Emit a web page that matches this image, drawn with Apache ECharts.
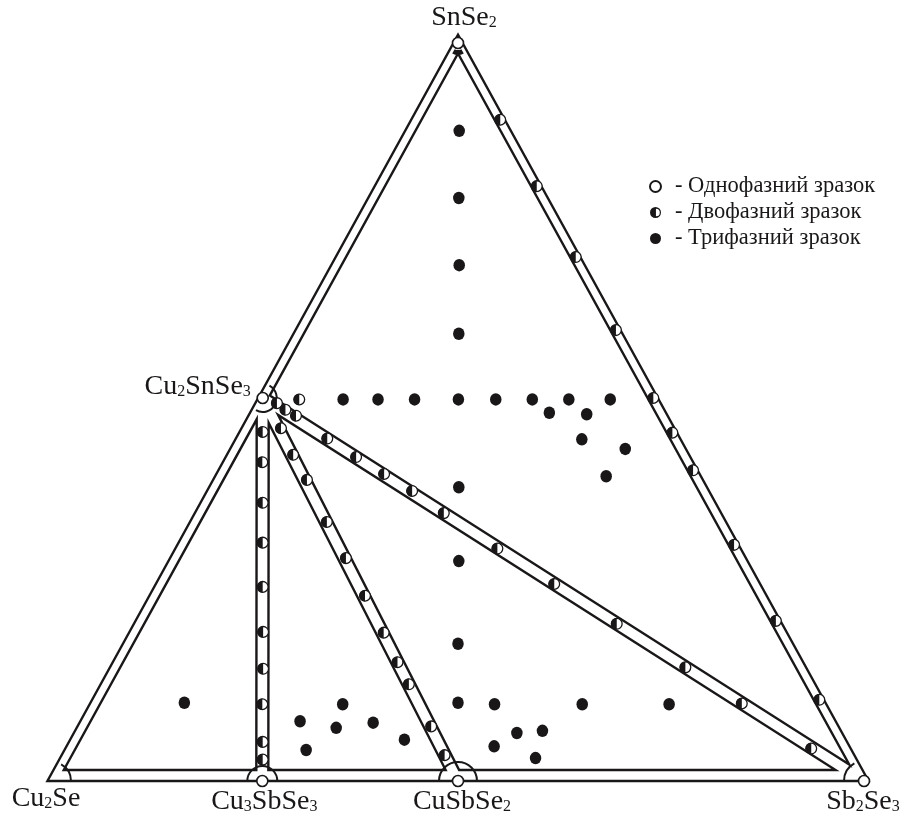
<!DOCTYPE html>
<html>
<head>
<meta charset="utf-8">
<script src="https://cdn.jsdelivr.net/npm/echarts@6/dist/echarts.min.js"></script>
<style>
  html, body { margin: 0; padding: 0; background: #ffffff; }
  #chart { width: 920px; height: 821px; }
</style>
</head>
<body>
<div id="chart"></div>
<script>
// Isothermal section of the Cu2Se – Sb2Se3 – SnSe2 system.
// Every composition is given as mole fractions of Sb2Se3 and SnSe2 (Cu2Se is the remainder).

// ---- phases ----
const phaseNames  = ['Cu2Se', 'Cu3SbSe3', 'CuSbSe2', 'Sb2Se3', 'Cu2SnSe3', 'SnSe2'];
const phaseSb2Se3 = [0, 0.259, 0.5, 1, 0, 0];
const phaseSnSe2  = [0, 0, 0, 0, 0.519, 1];
const singlePhaseSamples = ['Cu3SbSe3', 'CuSbSe2', 'Sb2Se3', 'Cu2SnSe3', 'SnSe2'];

// three-phase fields
const triangles = [
  ['Cu2Se', 'Cu3SbSe3', 'Cu2SnSe3'],
  ['Cu3SbSe3', 'CuSbSe2', 'Cu2SnSe3'],
  ['CuSbSe2', 'Sb2Se3', 'Cu2SnSe3'],
  ['Cu2SnSe3', 'Sb2Se3', 'SnSe2']
];

// ---- two-phase samples ----
// SnSe2 – Sb2Se3
const edgeSb2Se3 = [0.104, 0.194, 0.290, 0.389, 0.481, 0.528, 0.579, 0.680, 0.783, 0.890];
const edgeSnSe2  = [0.896, 0.806, 0.710, 0.611, 0.519, 0.472, 0.421, 0.320, 0.217, 0.110];
// Cu2SnSe3 – Cu3SbSe3
const cu3Sb2Se3 = [0.023, 0.043, 0.071, 0.098, 0.128, 0.159, 0.184, 0.207, 0.233, 0.245];
const cu3SnSe2  = [0.473, 0.432, 0.377, 0.323, 0.263, 0.202, 0.152, 0.104, 0.053, 0.029];
// Cu2SnSe3 – CuSbSe2
const cu1Sb2Se3 = [0.043, 0.076, 0.110, 0.163, 0.211, 0.260, 0.308, 0.345, 0.374, 0.430, 0.466];
const cu1SnSe2  = [0.478, 0.442, 0.408, 0.351, 0.302, 0.251, 0.201, 0.161, 0.131, 0.074, 0.035];
// Cu2SnSe3 – Sb2Se3 (and one sample beside Cu2SnSe3)
const sbSb2Se3 = [0.021, 0.036, 0.053, 0.107, 0.155, 0.201, 0.247, 0.301, 0.391, 0.485, 0.589, 0.703, 0.797, 0.913, 0.046];
const sbSnSe2  = [0.512, 0.503, 0.495, 0.464, 0.439, 0.416, 0.393, 0.363, 0.315, 0.267, 0.213, 0.154, 0.105, 0.044, 0.517];

// ---- three-phase samples ----
const threeSb2Se3 = [
  0.061, 0.106, 0.152, 0.198, 0.100, 0.143, 0.188, 0.242, 0.288, 0.333, 0.378, 0.429,
  0.363, 0.410, 0.421, 0.481, 0.476, 0.302,
  0.352, 0.407, 0.447, 0.493, 0.601, 0.708, 0.540, 0.570, 0.521, 0.580,
  0.306, 0.265, 0.314, 0.356, 0.406, 0.292,
  0.110
];
const threeSnSe2 = [
  0.881, 0.790, 0.699, 0.606, 0.517, 0.517, 0.517, 0.517, 0.517, 0.517, 0.517, 0.517,
  0.499, 0.497, 0.463, 0.450, 0.413, 0.398,
  0.298, 0.186, 0.106, 0.104, 0.104, 0.104, 0.065, 0.068, 0.047, 0.031,
  0.104, 0.081, 0.072, 0.079, 0.056, 0.042,
  0.106
];

const legendNames = ['Однофазний зразок', 'Двофазний зразок', 'Трифазний зразок'];

// ---- drawing style ----
const INK = '#1a1718';
const SERIF = "'Liberation Serif', 'Times New Roman', serif";
const FRAME_W = 2.4;
const INSET = { base: 11, side: 5, tie: 6 };
const OUTSET_SIDE = 4;
const labelOffset = {
  SnSe2: [6, -25], Cu2SnSe3: [-65, -11], Cu2Se: [-6, 18],
  Cu3SbSe3: [2, 21], CuSbSe2: [4, 21], Sb2Se3: [-1, 21]
};
const angleMarks = [
  { at: 'Cu2Se', from: 'SnSe2', to: 'Sb2Se3', r: 19 },
  { at: 'Sb2Se3', from: 'Cu2Se', to: 'SnSe2', r: 20 },
  { at: 'Cu3SbSe3', from: 'Cu2Se', to: 'Sb2Se3', r: 15 },
  { at: 'CuSbSe2', from: 'Cu2Se', to: 'Sb2Se3', r: 19 },
  { at: 'Cu2SnSe3', from: 'SnSe2', to: 'Cu2Se', r: 14 }
];

// ---- helpers ----
function toXY(sb, sn) { return [sb + sn / 2, sn]; }
function phaseIdx(n) { return phaseNames.indexOf(n); }
function phaseXY(n) { const i = phaseIdx(n); return toXY(phaseSb2Se3[i], phaseSnSe2[i]); }
function zipXY(sbArr, snArr) { return sbArr.map((sb, i) => toXY(sb, snArr[i])); }

function edgeKind(n1, n2) {
  const i = phaseIdx(n1), j = phaseIdx(n2);
  const b1 = phaseSb2Se3[i], c1 = phaseSnSe2[i], b2 = phaseSb2Se3[j], c2 = phaseSnSe2[j];
  if (c1 === 0 && c2 === 0) return 'base';
  if (b1 === 0 && b2 === 0) return 'side';
  if (Math.abs(b1 + c1 - 1) < 1e-9 && Math.abs(b2 + c2 - 1) < 1e-9) return 'side';
  return 'tie';
}

// shift every edge of a pixel polygon inwards by its own distance (negative = outwards)
function offsetPolygon(pts, dists) {
  const n = pts.length;
  const gx = pts.reduce((s, p) => s + p[0], 0) / n;
  const gy = pts.reduce((s, p) => s + p[1], 0) / n;
  const lines = pts.map((a, i) => {
    const b = pts[(i + 1) % n];
    const len = Math.hypot(b[0] - a[0], b[1] - a[1]);
    const ux = (b[0] - a[0]) / len, uy = (b[1] - a[1]) / len;
    let nx = -uy, ny = ux;
    if ((gx - a[0]) * nx + (gy - a[1]) * ny < 0) { nx = -nx; ny = -ny; }
    return { x: a[0] + nx * dists[i], y: a[1] + ny * dists[i], ux, uy };
  });
  return lines.map((l2, i) => {
    const l1 = lines[(i - 1 + n) % n];
    const den = l1.ux * l2.uy - l1.uy * l2.ux;
    const t = ((l2.x - l1.x) * l2.uy - (l2.y - l1.y) * l2.ux) / den;
    return [l1.x + t * l1.ux, l1.y + t * l1.uy];
  });
}

function richName(name) {
  return name.replace(/(\D+)/g, '{n|$1}').replace(/(\d+)/g, '{s|$1}');
}

function renderFrame(params, api) {
  const P = {};
  phaseNames.forEach(n => { P[n] = api.coord(phaseXY(n)); });
  const children = [];
  const lineStyle = { fill: 'none', stroke: INK, lineWidth: FRAME_W, lineJoin: 'miter' };

  const outer = ['Cu2Se', 'Sb2Se3', 'SnSe2'];
  const outerD = outer.map((n, k) => edgeKind(n, outer[(k + 1) % 3]) === 'base' ? 0 : -OUTSET_SIDE);
  children.push({ type: 'polygon', shape: { points: offsetPolygon(outer.map(n => P[n]), outerD) }, style: lineStyle });

  triangles.forEach(tri => {
    const d = tri.map((n, k) => INSET[edgeKind(n, tri[(k + 1) % 3])]);
    children.push({ type: 'polygon', shape: { points: offsetPolygon(tri.map(n => P[n]), d) }, style: lineStyle });
  });

  const ang = (a, b) => Math.atan2(P[b][1] - P[a][1], P[b][0] - P[a][0]);
  angleMarks.forEach(m => {
    const a0 = ang(m.at, m.from);
    let a1 = ang(m.at, m.to);
    while (a1 <= a0) a1 += Math.PI * 2;
    children.push({
      type: 'arc',
      shape: { cx: P[m.at][0], cy: P[m.at][1], r: m.r, startAngle: a0, endAngle: a1, clockwise: true },
      style: { fill: 'none', stroke: INK, lineWidth: 2 }
    });
  });

  // small solid wedge at the SnSe2 corner
  const s0 = ang('SnSe2', 'Sb2Se3');
  let s1 = ang('SnSe2', 'Cu2Se');
  while (s1 <= s0) s1 += Math.PI * 2;
  children.push({
    type: 'sector',
    shape: { cx: P.SnSe2[0], cy: P.SnSe2[1], r0: 7, r: 12, startAngle: s0, endAngle: s1, clockwise: true },
    style: { fill: INK }
  });

  return { type: 'group', children };
}

function renderHalf(params, api) {
  const p = api.coord([api.value(0), api.value(1)]);
  const r = 5.4;
  return {
    type: 'group',
    children: [
      { type: 'circle', shape: { cx: p[0], cy: p[1], r }, style: { fill: '#ffffff', stroke: INK, lineWidth: 1.3 } },
      { type: 'sector', shape: { cx: p[0], cy: p[1], r0: 0, r: r + 0.3, startAngle: Math.PI / 2, endAngle: Math.PI * 1.5, clockwise: true },
        style: { fill: INK } }
    ]
  };
}

const twoPhaseData = [].concat(
  zipXY(edgeSb2Se3, edgeSnSe2),
  zipXY(cu3Sb2Se3, cu3SnSe2),
  zipXY(cu1Sb2Se3, cu1SnSe2),
  zipXY(sbSb2Se3, sbSnSe2)
);
const threePhaseData = zipXY(threeSb2Se3, threeSnSe2);
const singlePhaseData = singlePhaseSamples.map(phaseXY);
const labelData = phaseNames.map(n => ({
  name: n,
  value: phaseXY(n),
  label: { offset: labelOffset[n] }
}));

const halfIcon = 'path://M10,0A10,10,0,1,1,10,20A10,10,0,1,1,10,0ZM10.8,3L10.8,17A7,7,0,0,0,10.8,3Z';

const chart = echarts.init(document.getElementById('chart'), null, { renderer: 'canvas' });
chart.setOption({
  animation: false,
  backgroundColor: '#ffffff',
  grid: { left: 52, right: 56, top: 43, bottom: 40 },
  xAxis: { type: 'value', min: 0, max: 1, show: false },
  yAxis: { type: 'value', min: 0, max: 1, show: false },
  legend: {
    orient: 'vertical',
    left: 649,
    top: 175,
    padding: 0,
    itemWidth: 11,
    itemHeight: 11,
    itemGap: 3,
    selectedMode: false,
    formatter: '- {name}',
    textStyle: { fontFamily: SERIF, fontSize: 22.5, color: INK, lineHeight: 22, padding: [0, 0, 0, 9] },
    data: [
      { name: legendNames[0], icon: 'circle', itemStyle: { color: '#ffffff', borderColor: INK, borderWidth: 2, opacity: 1 } },
      { name: legendNames[1], icon: halfIcon, itemStyle: { color: INK, borderWidth: 0, opacity: 1 } },
      { name: legendNames[2], icon: 'circle', itemStyle: { color: INK, borderWidth: 0, opacity: 1 } }
    ]
  },
  series: [
    {
      type: 'custom',
      name: 'frame',
      silent: true,
      renderItem: renderFrame,
      data: [[0, 0]]
    },
    {
      type: 'custom',
      name: legendNames[1],
      silent: true,
      itemStyle: { color: INK },
      renderItem: renderHalf,
      data: twoPhaseData
    },
    {
      type: 'scatter',
      name: legendNames[2],
      silent: true,
      symbol: 'circle',
      symbolSize: [11.5, 12.5],
      itemStyle: { color: INK, opacity: 1 },
      data: threePhaseData
    },
    {
      type: 'scatter',
      name: legendNames[0],
      silent: true,
      symbol: 'circle',
      symbolSize: 11,
      itemStyle: { color: '#ffffff', borderColor: INK, borderWidth: 1.6, opacity: 1 },
      data: singlePhaseData
    },
    {
      type: 'scatter',
      name: 'phase labels',
      silent: true,
      symbolSize: 0,
      itemStyle: { opacity: 1 },
      data: labelData,
      label: {
        show: true,
        position: 'inside',
        align: 'center',
        verticalAlign: 'middle',
        formatter: p => richName(p.name),
        rich: {
          n: { fontFamily: SERIF, fontSize: 28, color: INK, lineHeight: 32 },
          s: { fontFamily: SERIF, fontSize: 16, color: INK, lineHeight: 20, verticalAlign: 'bottom', padding: [0, 0, 3, 0] }
        }
      }
    }
  ]
});
</script>
</body>
</html>
